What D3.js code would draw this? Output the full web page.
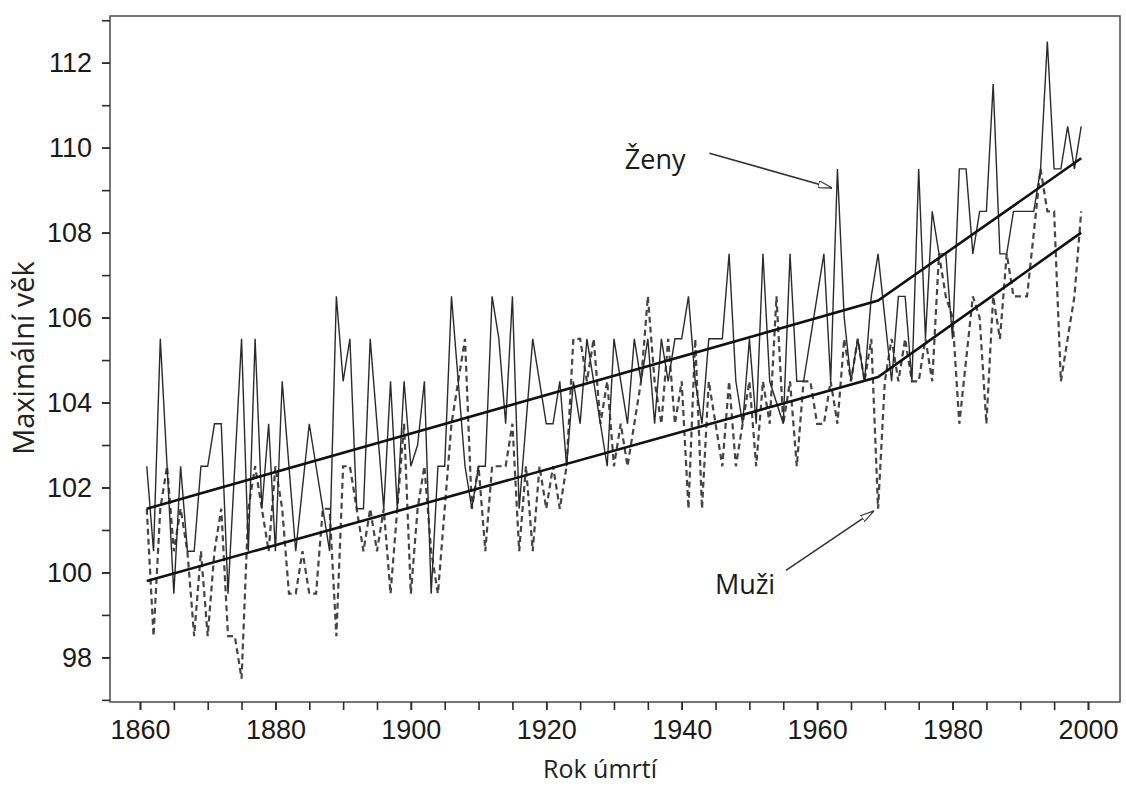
<!DOCTYPE html>
<html>
<head>
<meta charset="utf-8">
<script src="https://cdn.jsdelivr.net/npm/d3@7"></script>
<style>
  html, body { margin: 0; padding: 0; background: #fff; }
  svg { display: block; }
</style>
</head>
<body>
<svg id="chart" width="1126" height="789"></svg>
<script>
// Years of death 1861–1999
const years = d3.range(1861, 2000);

// Highest age at death recorded each year, women (solid line)
const women = [
  102.5, 100.5, 105.5, 102.5, 99.5, 102.5, 100.5, 100.5, 102.5, 102.5,   // 1861–1870
  103.5, 103.5, 99.5, 102.5, 105.5, 100.5, 105.5, 101.5, 103.5, 100.5,   // 1871–1880
  104.5, 102.5, 100.5, 102, 103.5, 102.5, 101.5, 100.5, 106.5, 104.5,    // 1881–1890
  105.5, 101.5, 101.5, 105.5, 103.5, 101.5, 104.5, 101.5, 104.5, 102.5,  // 1891–1900
  103, 104.5, 99.5, 102.5, 102.5, 106.5, 104.5, 102.5, 101.5, 102.5,     // 1901–1910
  102.5, 106.5, 105.5, 103.5, 106.5, 101.5, 103.5, 105.5, 104.5, 103.5,  // 1911–1920
  103.5, 104.5, 102.5, 104.5, 103.5, 105.5, 104.5, 103.5, 102.5, 105.5,  // 1921–1930
  104.5, 103.5, 105.5, 104.5, 105.5, 103.5, 105.5, 104.5, 105.5, 105.5,  // 1931–1940
  106.5, 104.5, 103.5, 105.5, 105.5, 105.5, 107.5, 104.5, 103.5, 105.5,  // 1941–1950
  103.5, 107.5, 104.5, 104, 103.5, 107.5, 104.5, 104.5, 105.5, 106.5,    // 1951–1960
  107.5, 104.5, 109.5, 106, 104.5, 105.5, 104.5, 106.5, 107.5, 106,      // 1961–1970
  104.5, 106.5, 106.5, 104.5, 109.5, 105.5, 108.5, 107.5, 107.5, 105.5,  // 1971–1980
  109.5, 109.5, 107.5, 108.5, 108.5, 111.5, 107.5, 107.5, 108.5, 108.5,  // 1981–1990
  108.5, 108.5, 109.5, 112.5, 109.5, 109.5, 110.5, 109.5, 110.5          // 1991–1999
];

// Highest age at death recorded each year, men (dashed line)
const men = [
  101.5, 98.5, 101.5, 102.5, 100.5, 101.5, 100.5, 98.5, 100.5, 98.5,     // 1861–1870
  100.5, 101.5, 98.5, 98.5, 97.5, 101.5, 102.5, 101.5, 100.5, 102.5,     // 1871–1880
  101.5, 99.5, 99.5, 100.5, 99.5, 99.5, 101.5, 101.5, 98.5, 102.5,       // 1881–1890
  102.5, 101.5, 100.5, 101.5, 100.5, 101.5, 99.5, 101.5, 103.5, 99.5,    // 1891–1900
  101.5, 102.5, 100.5, 99.5, 101.5, 103.5, 104.5, 105.5, 101.5, 102.5,   // 1901–1910
  100.5, 102.5, 102.5, 102.5, 103.5, 100.5, 102.5, 100.5, 102.5, 101.5,  // 1911–1920
  102.5, 101.5, 102.5, 105.5, 105.5, 104.5, 105.5, 103.5, 104.5, 102.5,  // 1921–1930
  103.5, 102.5, 103.5, 104.5, 106.5, 104.5, 103.5, 105.5, 103.5, 104.5,  // 1931–1940
  101.5, 105.5, 101.5, 104.5, 103.5, 102.5, 104.5, 102.5, 103.5, 104.5,  // 1941–1950
  102.5, 104.5, 103.5, 106.5, 103.5, 104.5, 102.5, 104.5, 104.5, 103.5,  // 1951–1960
  103.5, 104.5, 103.5, 105.5, 104.5, 105.5, 104.5, 105.5, 101.5, 104.5,  // 1961–1970
  105.5, 104.5, 105.5, 104.5, 104.5, 105.5, 104.5, 107.5, 106.5, 106,    // 1971–1980
  103.5, 105, 106.5, 106, 103.5, 106.5, 105.5, 107.5, 106.5, 106.5,      // 1981–1990
  106.5, 108, 109.5, 108.5, 108.5, 104.5, 105.5, 106.5, 108.5            // 1991–1999
];

// Fitted trends with a break in 1969
const trendYears = [1861, 1969, 1999];
const womenTrend = [101.5, 106.4, 109.75];
const menTrend = [99.8, 104.6, 108.0];

// Axis ticks
const xMajorTicks = [1860, 1880, 1900, 1920, 1940, 1960, 1980, 2000];
const xMinorTicks = d3.range(1860, 2001, 5);
const yMajorTicks = [98, 100, 102, 104, 106, 108, 110, 112];
const yMinorTicks = d3.range(97, 114, 1);

const svg = d3.select("#chart");

const plot = { left: 110, right: 1120, top: 16, bottom: 702 };

const x = d3.scaleLinear().domain([1855.57, 2004.73]).range([plot.left, plot.right]);
const y = d3.scaleLinear().domain([96.95, 113.1]).range([plot.bottom, plot.top]);

const ink = "#2b2b2b";
const tickFont = "'Liberation Sans', Arial, sans-serif";
const labelFont = "'Open Sans', sans-serif";

// Frame
svg.append("rect")
  .attr("x", plot.left).attr("y", plot.top)
  .attr("width", plot.right - plot.left).attr("height", plot.bottom - plot.top)
  .attr("fill", "none").attr("stroke", "#4a4a4a").attr("stroke-width", 1.5);

// X axis: minor ticks every 5 years, labels every 20
const xAxisMinor = d3.axisBottom(x).tickValues(xMinorTicks).tickSize(8).tickFormat("");
const xAxisMajor = d3.axisBottom(x).tickValues(xMajorTicks).tickSize(8).tickPadding(10)
  .tickFormat(d3.format("d"));

const gxMinor = svg.append("g").attr("transform", `translate(0,${plot.bottom})`).call(xAxisMinor);
const gx = svg.append("g").attr("transform", `translate(0,${plot.bottom})`).call(xAxisMajor);
[gxMinor, gx].forEach(g => {
  g.select(".domain").remove();
  g.selectAll(".tick line").attr("stroke", ink).attr("stroke-width", 1.6);
});
gx.selectAll(".tick text")
  .attr("fill", "#1a1a1a")
  .style("font-family", tickFont)
  .style("font-size", "27px");

// Y axis: ticks every year, labels every 2 years
const yAxisMinor = d3.axisLeft(y).tickValues(yMinorTicks).tickSize(8).tickFormat("");
const yAxisMajor = d3.axisLeft(y).tickValues(yMajorTicks).tickSize(8).tickPadding(10)
  .tickFormat(d3.format("d"));

const gyMinor = svg.append("g").attr("transform", `translate(${plot.left},0)`).call(yAxisMinor);
const gy = svg.append("g").attr("transform", `translate(${plot.left},0)`).call(yAxisMajor);
[gyMinor, gy].forEach(g => {
  g.select(".domain").remove();
  g.selectAll(".tick line").attr("stroke", ink).attr("stroke-width", 1.6);
});
gy.selectAll(".tick text")
  .attr("fill", "#1a1a1a")
  .style("font-family", tickFont)
  .style("font-size", "27px");

// Axis titles
svg.append("text")
  .attr("x", 600).attr("y", 778)
  .attr("text-anchor", "middle")
  .attr("fill", "#222")
  .style("font-family", labelFont)
  .style("font-size", "25px")
  .text("Rok úmrtí");

svg.append("text")
  .attr("transform", "translate(34,358) rotate(-90)")
  .attr("text-anchor", "middle")
  .attr("fill", "#222")
  .style("font-family", labelFont)
  .style("font-size", "29px")
  .text("Maximální věk");

// Series
const line = d3.line().x(d => x(d[0])).y(d => y(d[1]));

svg.append("path")
  .datum(years.map((yr, i) => [yr, men[i]]))
  .attr("d", line)
  .attr("fill", "none")
  .attr("stroke", "#444")
  .attr("stroke-width", 2.2)
  .attr("stroke-dasharray", "6,4");

svg.append("path")
  .datum(years.map((yr, i) => [yr, women[i]]))
  .attr("d", line)
  .attr("fill", "none")
  .attr("stroke", "#2a2a2a")
  .attr("stroke-width", 1.4)
  .attr("stroke-linejoin", "miter");

[womenTrend, menTrend].forEach(tr => {
  svg.append("path")
    .datum(trendYears.map((yr, i) => [yr, tr[i]]))
    .attr("d", line)
    .attr("fill", "none")
    .attr("stroke", "#111")
    .attr("stroke-width", 2.6);
});

// Annotations with open arrowheads
const defs = svg.append("defs");
defs.append("marker")
  .attr("id", "openhead")
  .attr("viewBox", "0 0 14 8")
  .attr("refX", 14).attr("refY", 4)
  .attr("markerWidth", 14).attr("markerHeight", 8)
  .attr("markerUnits", "userSpaceOnUse")
  .attr("orient", "auto")
  .append("path")
  .attr("d", "M0,0.5 L14,4 L0,7.5 Z")
  .attr("fill", "#fff")
  .attr("stroke", "#333")
  .attr("stroke-width", 1.2);

const notes = [
  { label: "Ženy", tx: 1931.6, ty: 109.5, from: [1944.1, 109.87], to: [1962.2, 109.05] },
  { label: "Muži", tx: 1944.9, ty: 99.5, from: [1955.4, 100.05], to: [1968.4, 101.45] }
];

notes.forEach(n => {
  svg.append("line")
    .attr("x1", x(n.from[0])).attr("y1", y(n.from[1]))
    .attr("x2", x(n.to[0])).attr("y2", y(n.to[1]))
    .attr("stroke", "#333").attr("stroke-width", 1.6)
    .attr("marker-end", "url(#openhead)");
  svg.append("text")
    .attr("x", x(n.tx)).attr("y", y(n.ty))
    .attr("fill", "#1a1a1a")
    .style("font-family", labelFont)
    .style("font-size", "27px")
    .text(n.label);
});
</script>
</body>
</html>
